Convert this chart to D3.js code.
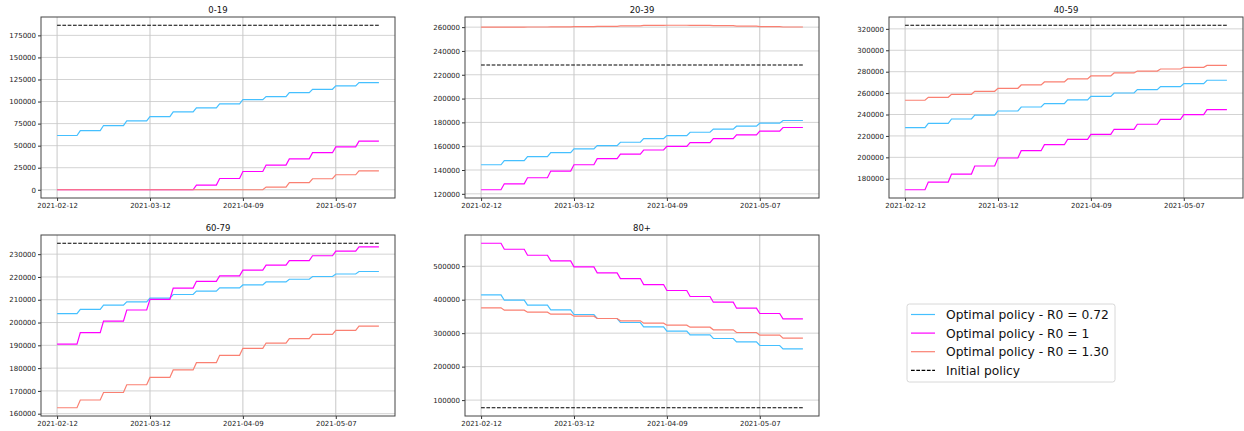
<!DOCTYPE html>
<html>
<head>
<meta charset="utf-8">
<script src="https://cdn.jsdelivr.net/npm/d3@7"></script>
<style>
  body { margin: 0; background: #fff; }
  svg { font-family: "DejaVu Sans", sans-serif; }
</style>
</head>
<body>
<div id="chart"></div>
<script>
// weekly values (one value per week, 14 weeks from 2021-02-12)
var startDate = "2021-02-12";
var weeks = 14;

var groups = ["0-19", "20-39", "40-59", "60-79", "80+"];

var policyLow = {   // Optimal policy - R0 = 0.72
  "0-19":  [61500, 67100, 72800, 78100, 83000, 88300, 92800, 97300, 102200, 105600, 110100, 113900, 117700, 121500],
  "20-39": [144400, 147800, 151200, 154600, 157700, 160500, 163300, 166400, 168900, 171700, 174300, 176800, 179300, 181600],
  "40-59": [227700, 231700, 235800, 239500, 243300, 247000, 250100, 253600, 257000, 260100, 263200, 266000, 268900, 272000],
  "60-79": [203900, 205800, 207600, 209100, 210700, 212300, 213800, 215200, 216500, 217800, 219000, 220200, 221300, 222400],
  "80+":   [414400, 398500, 383600, 369700, 355700, 343800, 331800, 318900, 306000, 295000, 284100, 274100, 263200, 253200]
};
var policyMid = {   // Optimal policy - R0 = 1
  "0-19":  [0, 0, 0, 0, 0, 0, 5300, 12800, 20700, 28000, 35000, 42000, 48600, 55100],
  "20-39": [123400, 128400, 133500, 139100, 144400, 149500, 153400, 156800, 159900, 163000, 166400, 169500, 172600, 175700],
  "40-59": [169700, 176900, 184400, 191900, 199400, 206200, 211800, 216800, 221500, 226200, 230900, 235500, 239900, 244600],
  "60-79": [190500, 195600, 200600, 205500, 210200, 215100, 218100, 220500, 223000, 225200, 227200, 229300, 231300, 233200],
  "80+":   [568700, 550700, 532800, 515900, 498000, 480100, 463200, 445300, 427400, 409500, 392500, 374600, 358700, 342800]
};
var policyHigh = {  // Optimal policy - R0 = 1.30
  "0-19":  [0, 0, 0, 0, 0, 0, 0, 0, 0, 3000, 8000, 12500, 17000, 21500],
  "20-39": [260000, 260000, 260100, 260200, 260400, 260700, 261000, 261400, 261600, 261500, 261200, 260800, 260400, 260100],
  "40-59": [253300, 256100, 258900, 261700, 264500, 267600, 270400, 273200, 276000, 278800, 280600, 282500, 284100, 285900],
  "60-79": [162600, 166000, 169300, 172700, 175900, 179200, 182400, 185600, 188700, 191000, 192900, 194800, 196600, 198400],
  "80+":   [375600, 368700, 362700, 356700, 350700, 343800, 336800, 329900, 323900, 317900, 310000, 302000, 294000, 285000]
};
var initialPolicy = { "0-19": 186500, "20-39": 228200, "40-59": 323400, "60-79": 234800, "80+": 77100 };

var yTicks = {
  "0-19":  [0, 25000, 50000, 75000, 100000, 125000, 150000, 175000],
  "20-39": [120000, 140000, 160000, 180000, 200000, 220000, 240000, 260000],
  "40-59": [180000, 200000, 220000, 240000, 260000, 280000, 300000, 320000],
  "60-79": [160000, 170000, 180000, 190000, 200000, 210000, 220000, 230000],
  "80+":   [100000, 200000, 300000, 400000, 500000]
};
var xTickLabels = ["2021-02-12", "2021-03-12", "2021-04-09", "2021-05-07"];

var seriesNames = ["Optimal policy - R0 = 0.72", "Optimal policy - R0 = 1", "Optimal policy - R0 = 1.30", "Initial policy"];
var colors = ["#45c0ff", "#ff00ff", "#fa8072", "#000000"];

var width = 1244, height = 431;
var panelW = 354, panelH = 181;
var panelPos = [[41, 17], [465, 17], [889, 17], [41, 235], [465, 235]];

var svg = d3.select("#chart").append("svg")
  .attr("width", width)
  .attr("height", height);

var parse = d3.utcParse("%Y-%m-%d");
var t0 = parse(startDate);

// each weekly value holds for 7 days
function toDaily(arr) {
  var out = [];
  arr.forEach(function(v, w) {
    for (var d = 0; d < 7; d++) {
      out.push({ date: d3.utcDay.offset(t0, w * 7 + d), value: v });
    }
  });
  return out;
}

var lastDate = d3.utcDay.offset(t0, weeks * 7 - 1);
var span = lastDate - t0;

groups.forEach(function(g, i) {
  var px = panelPos[i][0], py = panelPos[i][1];
  var panel = svg.append("g").attr("transform", "translate(" + px + "," + py + ")");

  var x = d3.scaleUtc()
    .domain([new Date(+t0 - span * 0.05), new Date(+lastDate + span * 0.05)])
    .range([0, panelW]);

  var allVals = policyLow[g].concat(policyMid[g], policyHigh[g], [initialPolicy[g]]);
  var lo = d3.min(allVals), hi = d3.max(allVals), pad = (hi - lo) * 0.05;
  var y = d3.scaleLinear().domain([lo - pad, hi + pad]).range([panelH, 0]);

  // grid
  panel.append("g").selectAll("line").data(yTicks[g]).enter().append("line")
    .attr("x1", 0).attr("x2", panelW)
    .attr("y1", function(d) { return y(d); }).attr("y2", function(d) { return y(d); })
    .attr("stroke", "#d3d3d3").attr("stroke-width", 1);
  panel.append("g").selectAll("line").data(xTickLabels).enter().append("line")
    .attr("x1", function(d) { return x(parse(d)); }).attr("x2", function(d) { return x(parse(d)); })
    .attr("y1", 0).attr("y2", panelH)
    .attr("stroke", "#c8c8c8").attr("stroke-width", 1);

  var line = d3.line()
    .x(function(d) { return x(d.date); })
    .y(function(d) { return y(d.value); });

  [policyLow, policyMid, policyHigh].forEach(function(s, k) {
    panel.append("path")
      .datum(toDaily(s[g]))
      .attr("fill", "none")
      .attr("stroke", colors[k])
      .attr("stroke-width", 1.2)
      .attr("d", line);
  });

  var flat = toDaily(d3.range(weeks).map(function() { return initialPolicy[g]; }));
  panel.append("path")
    .datum(flat)
    .attr("fill", "none")
    .attr("stroke", colors[3])
    .attr("stroke-width", 1.2)
    .attr("stroke-dasharray", "3.7,1.6")
    .attr("d", line);

  // axes
  var yAxis = d3.axisLeft(y).tickValues(yTicks[g]).tickFormat(d3.format("d")).tickSize(3).tickPadding(2);
  var xAxis = d3.axisBottom(x).tickValues(xTickLabels.map(parse)).tickFormat(d3.utcFormat("%Y-%m-%d")).tickSize(3).tickPadding(2);

  var ya = panel.append("g").call(yAxis);
  var xa = panel.append("g").attr("transform", "translate(0," + panelH + ")").call(xAxis);
  [ya, xa].forEach(function(a) {
    a.select(".domain").remove();
    a.selectAll("text").attr("font-size", 7).attr("fill", "#222").attr("font-family", "DejaVu Sans");
    a.selectAll("line").attr("stroke", "#333");
  });

  panel.append("rect")
    .attr("width", panelW).attr("height", panelH)
    .attr("fill", "none").attr("stroke", "#444").attr("stroke-width", 1);

  panel.append("text")
    .attr("x", panelW / 2).attr("y", -4)
    .attr("text-anchor", "middle")
    .attr("font-size", 8.5)
    .attr("fill", "#111")
    .text(g);
});

// legend
var legend = svg.append("g").attr("transform", "translate(907,304)");
legend.append("rect")
  .attr("width", 208).attr("height", 78)
  .attr("rx", 2.5)
  .attr("fill", "#fff").attr("stroke", "#d8d8d8");
seriesNames.forEach(function(name, k) {
  var row = legend.append("g").attr("transform", "translate(0," + (10.5 + k * 18.6) + ")");
  row.append("line")
    .attr("x1", 4).attr("x2", 28)
    .attr("stroke", colors[k]).attr("stroke-width", 1.2)
    .attr("stroke-dasharray", k === 3 ? "3.7,1.6" : null);
  row.append("text")
    .attr("x", 39).attr("y", 4.5)
    .attr("font-size", 12.3)
    .attr("fill", "#111")
    .text(name);
});
</script>
</body>
</html>
